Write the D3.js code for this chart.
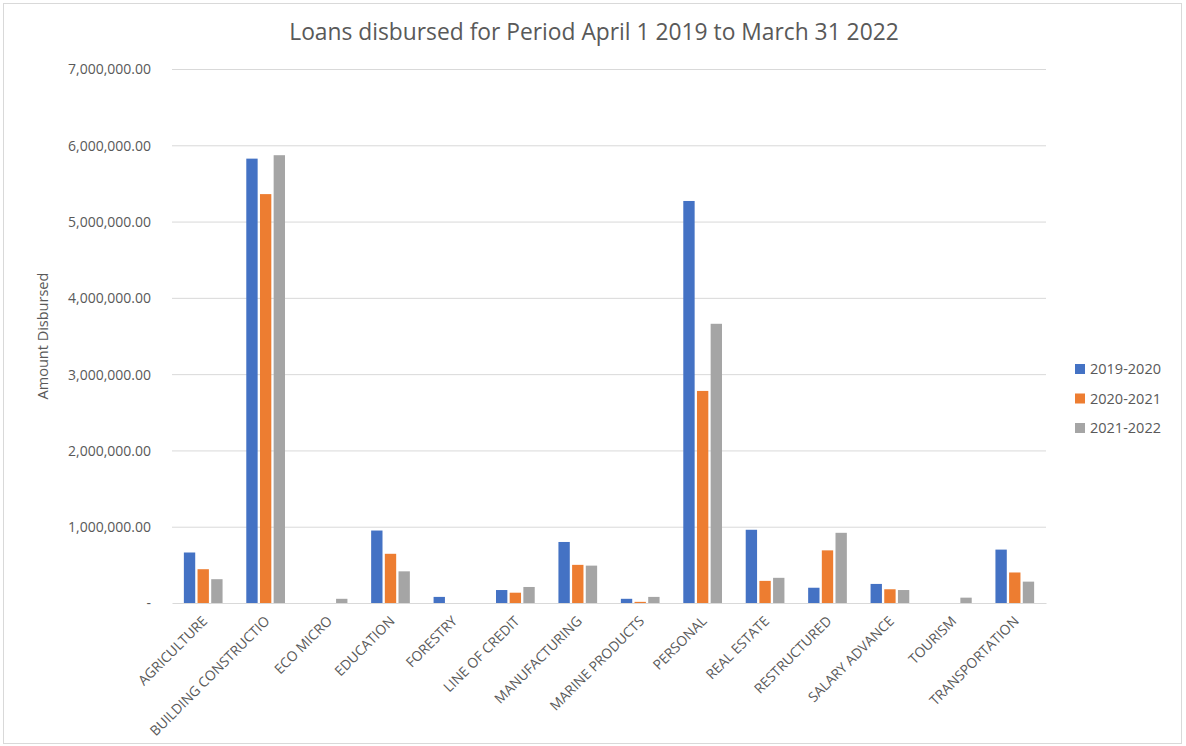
<!DOCTYPE html>
<meta charset="utf-8">
<style>
body { margin: 0; background: #fff; }
svg text { font-family: "Open Sans", "Liberation Sans", sans-serif; fill: #595959; }
.grid line { stroke: #d9d9d9; }
.grid path { display: none; }
.yaxis path, .yaxis line { display: none; }
.xaxis path { stroke: #d9d9d9; }
.xaxis line { display: none; }
</style>
<svg class="chart"></svg>
<script src="https://d3js.org/d3.v7.min.js"></script>
<script>

var categories = ["AGRICULTURE", "BUILDING CONSTRUCTIO", "ECO MICRO", "EDUCATION", "FORESTRY",
  "LINE OF CREDIT", "MANUFACTURING", "MARINE PRODUCTS", "PERSONAL", "REAL ESTATE",
  "RESTRUCTURED", "SALARY ADVANCE", "TOURISM", "TRANSPORTATION"];
var seriesNames = ["2019-2020", "2020-2021", "2021-2022"];
var colors = ["#4472C4", "#ED7D31", "#A5A5A5"];

var v2019 = [662000, 5825000, 0, 950000, 80000, 170000, 800000, 55000, 5270000, 960000, 200000, 250000, 0, 700000];
var v2020 = [443000, 5360000, 0, 645000, 0, 135000, 500000, 15000, 2780000, 290000, 690000, 180000, 0, 400000];
var v2021 = [312000, 5870000, 55000, 415000, 0, 210000, 490000, 80000, 3660000, 330000, 920000, 170000, 70000, 280000];
var yTicks = [0, 1000000, 2000000, 3000000, 4000000, 5000000, 6000000, 7000000];

var W = 1186, H = 746;
var margin = {top: 69, left: 172, right: 140, bottom: 143};
var width = W - margin.left - margin.right,
    height = H - margin.top - margin.bottom;

var svg = d3.select(".chart").attr("width", W).attr("height", H);

svg.append("rect")
    .attr("x", 3.5).attr("y", 3.5)
    .attr("width", W - 8).attr("height", H - 6)
    .attr("fill", "#fff").attr("stroke", "#d9d9d9");

var chart = svg.append("g")
    .attr("transform", "translate(" + margin.left + "," + margin.top + ")");

var x = d3.scaleBand().domain(categories).range([0, width]);
var x1 = d3.scaleBand().domain(seriesNames).range([x.bandwidth() * 0.19, x.bandwidth() * 0.81]).paddingInner(0.17);
var y = d3.scaleLinear().domain([0, 7000000]).range([height, 0]);

chart.append("g")
    .attr("class", "grid")
    .call(d3.axisLeft(y).tickValues(yTicks.slice(1)).tickSize(-width).tickFormat(""));

chart.append("g")
    .attr("class", "yaxis")
    .attr("transform", "translate(-18,0)")
    .call(d3.axisLeft(y).tickValues(yTicks).tickSize(0)
      .tickFormat(function (d) { return d === 0 ? "-" : d3.format(",.2f")(d); }))
    .selectAll("text").style("font-size", "14px").attr("dy", "0.35em");

var data = [v2019, v2020, v2021];
var groups = chart.selectAll(".series")
    .data(data)
    .enter().append("g")
    .attr("fill", function (d, i) { return colors[i]; });

groups.each(function (vals, si) {
  d3.select(this).selectAll("rect")
    .data(vals)
    .enter().append("rect")
    .attr("x", function (d, i) { return x(categories[i]) + x1(seriesNames[si]); })
    .attr("y", function (d) { return y(d); })
    .attr("width", x1.bandwidth())
    .attr("height", function (d) { return height - y(d); });
});

chart.append("g")
    .attr("class", "xaxis")
    .attr("transform", "translate(0," + height + ")")
    .call(d3.axisBottom(x).tickSize(0).tickSizeOuter(0))
    .selectAll("text")
    .style("font-size", "13.8px")
    .style("text-anchor", "end")
    .attr("dy", null)
    .attr("y", 0)
    .attr("transform", "translate(5,19) rotate(-45)");

chart.append("text")
    .attr("transform", "translate(-124," + (height / 2) + ") rotate(-90)")
    .attr("text-anchor", "middle")
    .style("font-size", "14.5px")
    .text("Amount Disbursed");

svg.append("text")
    .attr("x", 594).attr("y", 40)
    .attr("text-anchor", "middle")
    .style("font-size", "22.8px")
    .text("Loans disbursed for Period April 1 2019 to March 31 2022");

var legend = svg.selectAll(".legend")
    .data(seriesNames)
    .enter().append("g")
    .attr("transform", function (d, i) { return "translate(1075," + (364 + i * 29.5) + ")"; });
legend.append("rect").attr("width", 10).attr("height", 10)
    .attr("fill", function (d, i) { return colors[i]; });
legend.append("text").attr("x", 15).attr("y", 5).attr("dy", "0.35em")
    .style("font-size", "14.5px")
    .text(function (d) { return d; });

</script>
